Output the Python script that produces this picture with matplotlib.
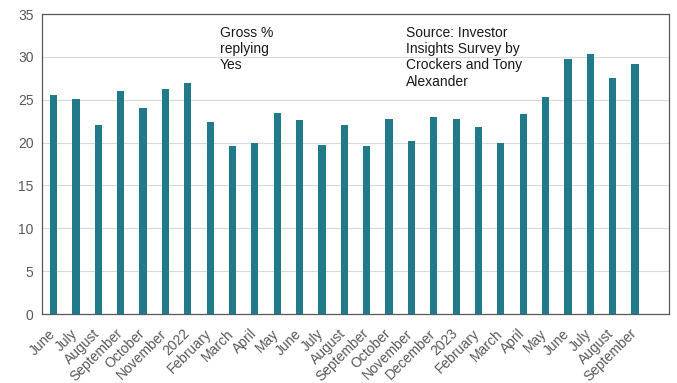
import matplotlib
matplotlib.use("Agg")
import matplotlib.pyplot as plt
import matplotlib.transforms as mtransforms
import numpy as np

plt.rcParams['font.family'] = ['Liberation Sans', 'DejaVu Sans']

months = ["June", "July", "August", "September", "October", "November", "2022",
          "February", "March", "April", "May", "June", "July", "August",
          "September", "October", "November", "December", "2023", "February",
          "March", "April", "May", "June", "July", "August", "September"]
gross_yes = [25.5, 25.1, 22.0, 26.0, 24.0, 26.2, 26.9, 22.4, 19.6, 19.9, 23.5,
             22.6, 19.7, 22.0, 19.6, 22.7, 20.2, 23.0, 22.7, 21.8, 20.0, 23.3,
             25.3, 29.8, 30.3, 27.5, 29.2]

fig = plt.figure(figsize=(6.77, 3.83), dpi=100)
ax = fig.add_axes([42 / 677, 1 - 314 / 383, 627 / 677, 300 / 383])

x = np.arange(len(months))
ax.bar(x, gross_yes, width=0.32, color="#217a8a", zorder=3)

ax.set_ylim(0, 35)
ax.set_yticks(range(0, 36, 5))
ax.set_xlim(-0.52, 27.52)
ax.set_xticks(x)
ax.set_xticklabels(months, rotation=45, ha="right", rotation_mode="anchor")
ax.tick_params(axis="both", length=0, labelsize=10, colors="#595959")
ax.tick_params(axis="x", pad=9)
ax.tick_params(axis="y", pad=6)
ax.yaxis.grid(True, color="#d9d9d9", linewidth=0.8, zorder=0)

# nudge the slanted month labels a little to the left
shift = mtransforms.ScaledTranslation(-4 / 72, 0, fig.dpi_scale_trans)
for lbl in ax.get_xticklabels():
    lbl.set_transform(lbl.get_transform() + shift)

for side in ["top", "right", "left", "bottom"]:
    ax.spines[side].set_color("#595959")
    ax.spines[side].set_linewidth(0.9)

ax.text(220 / 677, 1 - 26 / 383, "Gross %\nreplying\nYes", transform=fig.transFigure,
        fontsize=10, va="top", ha="left", color="#1a1a1a", linespacing=1.2)
ax.text(406 / 677, 1 - 26 / 383, "Source: Investor\nInsights Survey by\nCrockers and Tony\nAlexander",
        transform=fig.transFigure, fontsize=10, va="top", ha="left", color="#1a1a1a",
        linespacing=1.2)

fig.savefig("out.png", dpi=100)
